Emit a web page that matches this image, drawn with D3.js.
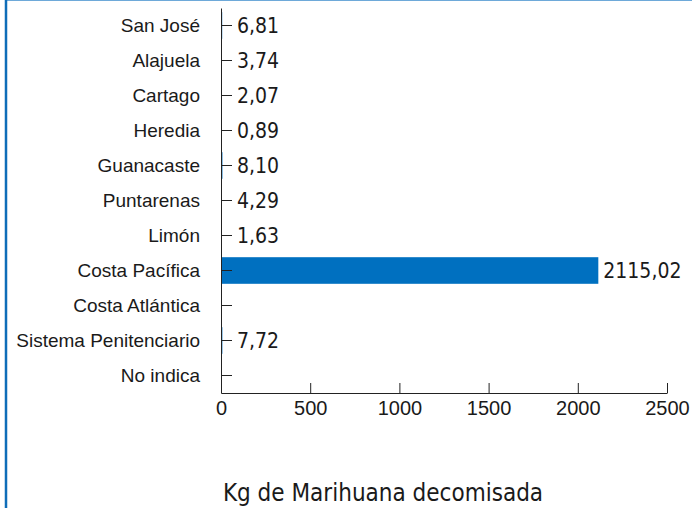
<!DOCTYPE html>
<html>
<head>
<meta charset="utf-8">
<script src="https://cdn.jsdelivr.net/npm/d3@7"></script>
<style>
  body { margin: 0; background: #fff; }
  svg { display: block; font-family: "Liberation Sans Narrow", "DejaVu Sans Condensed", sans-serif; }
</style>
</head>
<body>
<svg id="chart" width="692" height="508"></svg>
<script>
// categories and values (kg)
const provinces = ["San José", "Alajuela", "Cartago", "Heredia", "Guanacaste", "Puntarenas",
  "Limón", "Costa Pacífica", "Costa Atlántica", "Sistema Penitenciario", "No indica"];
const kilos = [6.81, 3.74, 2.07, 0.89, 8.10, 4.29, 1.63, 2115.02, null, 7.72, null];
const xTicks = [0, 500, 1000, 1500, 2000, 2500];

const data = provinces.map((p, i) => ({ name: p, value: kilos[i] }));

const svg = d3.select("#chart");
const margin = { top: 8, left: 221, right: 25, bottom: 115 };
const width = 692 - margin.left - margin.right;
const height = 508 - margin.top - margin.bottom;

// frame lines
svg.append("line").attr("x1", 6).attr("x2", 692).attr("y1", 0.5).attr("y2", 0.5)
  .attr("stroke", "#6ea9d9").attr("stroke-width", 1);
svg.append("line").attr("x1", 6).attr("x2", 6).attr("y1", 0).attr("y2", 508)
  .attr("stroke", "#0f6db8").attr("stroke-width", 2.5);

const g = svg.append("g").attr("transform", `translate(${margin.left},${margin.top})`);

const x = d3.scaleLinear().domain([0, 2500]).range([0, width]);
const y = d3.scaleBand().domain(provinces).range([0, height]).paddingInner(0.24).paddingOuter(0.12);

// bars
g.selectAll("rect.bar")
  .data(data.filter(d => d.value != null))
  .join("rect")
    .attr("class", "bar")
    .attr("x", 0)
    .attr("y", d => y(d.name))
    .attr("width", d => Math.max(x(d.value), 0))
    .attr("height", y.bandwidth())
    .attr("fill", "#0070c0");

// y axis with ticks pointing inwards
const yAxis = g.append("g")
  .call(d3.axisLeft(y).tickSize(-11).tickSizeOuter(0).tickPadding(21));
yAxis.select(".domain").attr("stroke", "#222");
yAxis.selectAll(".tick line").attr("stroke", "#222");
yAxis.selectAll(".tick text").attr("font-size", 19).attr("fill", "#1a1a1a");

// x axis with ticks pointing upwards
const xAxis = g.append("g")
  .attr("transform", `translate(0,${height})`)
  .call(d3.axisBottom(x).tickValues(xTicks).tickSize(-10).tickSizeOuter(0).tickPadding(8)
    .tickFormat(d3.format("d")));
xAxis.select(".domain").attr("stroke", "#222");
xAxis.selectAll(".tick line").attr("stroke", "#222");
xAxis.selectAll(".tick text").attr("font-size", 20).attr("fill", "#1a1a1a");

// value labels
const fmt = v => v.toFixed(2).replace(".", ",");
g.selectAll("text.value")
  .data(data.filter(d => d.value != null))
  .join("text")
    .attr("class", "value")
    .attr("x", d => Math.max(x(d.value), 11) + 5)
    .attr("y", d => y(d.name) + y.bandwidth() / 2)
    .attr("dy", "0.38em")
    .attr("font-size", 21)
    .attr("fill", "#1a1a1a")
    .text(d => fmt(d.value));

// axis title
svg.append("text")
  .attr("x", 383)
  .attr("y", 501)
  .attr("text-anchor", "middle")
  .attr("font-size", 24)
  .attr("fill", "#1a1a1a")
  .text("Kg de Marihuana decomisada");
</script>
</body>
</html>
